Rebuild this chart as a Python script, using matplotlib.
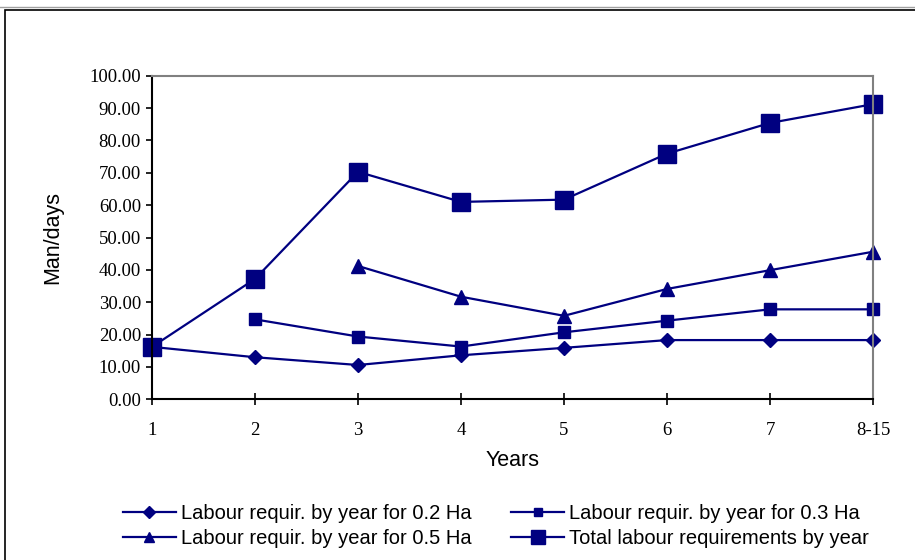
import numpy as np
import matplotlib.pyplot as plt
from matplotlib.patches import Rectangle

# years 1..7 and the 8-15 plateau
years = ['1', '2', '3', '4', '5', '6', '7', '8-15']
x = np.arange(1, len(years) + 1)

ha02 = [16.2, 13.0, 10.6, 13.6, 15.9, 18.3, 18.3, 18.3]
ha03 = [np.nan, 24.7, 19.4, 16.3, 20.7, 24.3, 27.8, 27.8]
ha05 = [np.nan, np.nan, 41.2, 31.7, 25.8, 34.1, 39.9, 45.6]
total = [16.2, 37.2, 70.3, 61.0, 61.7, 75.9, 85.4, 91.2]

NAVY = '#000080'

fig = plt.figure(figsize=(9.15, 5.6), dpi=100)
ax = fig.add_axes([152/915, 1 - 399.3/560, (873 - 152)/915, (399.3 - 75.7)/560])

l1, = ax.plot(x, ha02, color=NAVY, lw=1.6, marker='D', ms=7.5, label='Labour requir. by year for 0.2 Ha')
l2, = ax.plot(x, ha03, color=NAVY, lw=1.6, marker='s', ms=8.5, label='Labour requir. by year for 0.3 Ha')
l3, = ax.plot(x, ha05, color=NAVY, lw=1.6, marker='^', ms=10, label='Labour requir. by year for 0.5 Ha')
l4, = ax.plot(x, total, color=NAVY, lw=1.6, marker='s', ms=13.5, label='Total labour requirements by year')

ax.set_xlim(1, 8)
ax.set_ylim(0, 100)
ax.set_yticks(np.arange(0, 101, 10))
ax.set_yticklabels(['%.2f' % v for v in np.arange(0, 101, 10)])
ax.set_xticks(x)
ax.set_xticklabels(years)

for lab in ax.get_xticklabels() + ax.get_yticklabels():
    lab.set_family('Liberation Serif')
    lab.set_fontsize(13.5)

ax.tick_params(axis='x', direction='inout', length=8, width=1.2, pad=12)
ax.tick_params(axis='y', direction='out', length=4, width=1.2, pad=4)

for s in ['top', 'right']:
    ax.spines[s].set_color('#808080')
    ax.spines[s].set_linewidth(1.5)
for s in ['left', 'bottom']:
    ax.spines[s].set_color('black')
    ax.spines[s].set_linewidth(1.5)

ax.set_xlabel('Years', family='Liberation Sans', fontsize=15.5, labelpad=8)
ax.set_ylabel('Man/days', family='Liberation Sans', fontsize=15.5, labelpad=19)

for line in ax.get_lines():
    line.set_clip_on(False)

# legend fills by column, so order handles to read row-wise like the original
leg = fig.legend([l1, l3, l2, l4], [l.get_label() for l in (l1, l3, l2, l4)],
                 loc='center', bbox_to_anchor=(0.542, 0.06), ncol=2, frameon=False,
                 prop={'family': 'Liberation Sans', 'size': 14.5}, handlelength=2.6,
                 columnspacing=2.0, handletextpad=0.25, labelspacing=0.3, markerscale=0.75)

# chart frame
fig.add_artist(plt.Line2D([0, 1], [1 - 7/560, 1 - 7/560], transform=fig.transFigure,
                          color='#a0a0a0', lw=1))
fig.add_artist(Rectangle((5/915, -0.05), 1.0, (560 - 10)/560 + 0.05, transform=fig.transFigure,
                         fill=False, ec='black', lw=1.2))

fig.savefig('out.png', dpi=100)
